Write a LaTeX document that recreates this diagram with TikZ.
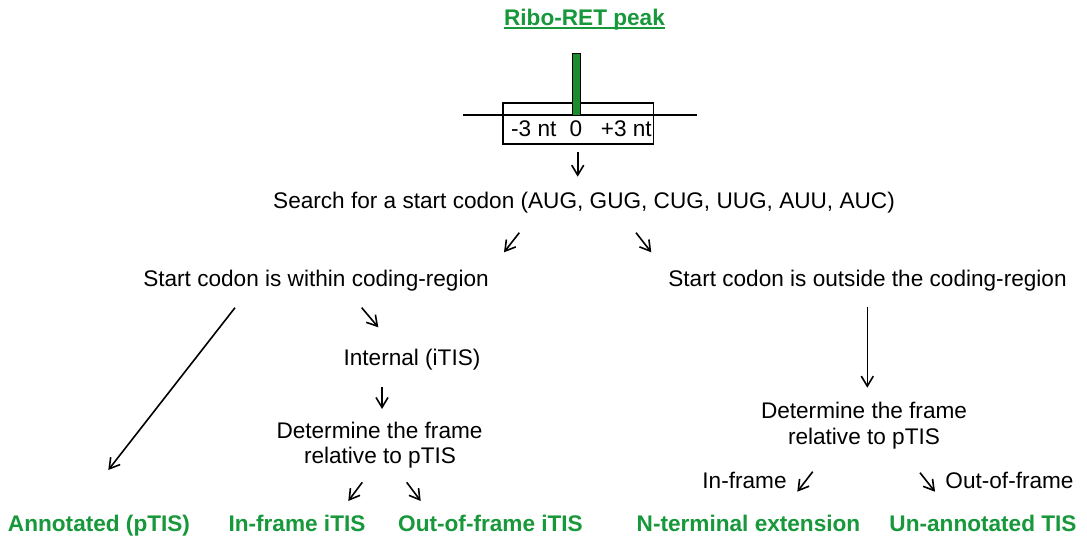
\documentclass[tikz,border=0pt]{standalone}
\usepackage{fontspec}
\setmainfont{Liberation Sans}
\usetikzlibrary{arrows.meta}
\definecolor{ggreen}{RGB}{23,152,58}
\definecolor{bargreen}{RGB}{28,140,45}
\begin{document}
\begin{tikzpicture}[x=1pt,y=-1pt,
  txt/.style={anchor=base,inner sep=0pt,font=\fontsize{22.6}{25.5}\selectfont},
  res/.style={anchor=base,inner sep=0pt,text=ggreen,font=\fontsize{22.6}{25.5}\selectfont\bfseries},
  arr/.style={line width=1.6pt,-{Straight Barb[length=10pt,width=12pt,line width=1.6pt]}},
  thin line/.style={line width=1.6pt}]
\useasboundingbox[fill=white] (0,0) rectangle (1087,537);

% peak
\node[res] (ribo) at (584.5,25.5) {Ribo-RET peak};
\draw[ggreen,line width=1.8pt] ([yshift=-2.5pt]ribo.base west) -- ([yshift=-2.5pt]ribo.base east);

\coordinate (la) at (463,115);
\coordinate (lb) at (697,115);
\draw[thin line] (la) -- (lb);
\node[draw,thin line,minimum width=150.6pt,minimum height=41pt,inner sep=0pt] (box) at (578,123.8) {};
\node[draw=black,line width=1pt,fill=bargreen,minimum width=7.7pt,minimum height=61.7pt,inner sep=0pt] (bar) at (576.2,84.2) {};
\node[txt,anchor=base west] (m3) at (511,137) {-3 nt};
\node[txt] (zero) at (576,137) {0};
\node[txt,anchor=base west] (p3) at (600.7,137) {+3 nt};

\coordinate (a0s) at (577.7,152);
\coordinate (a0e) at (577.7,176.7);
\draw[arr] (a0s) -- (a0e);

\node[txt] (search) at (584,208.5) {Search for a start codon (AUG, GUG, CUG, UUG, AUU, AUC)};

\coordinate (a1s) at (519.3,232.7);
\coordinate (a1e) at (504,252.3);
\coordinate (a2s) at (636,232.7);
\coordinate (a2e) at (651.3,252.3);
\draw[arr] (a1s) -- (a1e);
\draw[arr] (a2s) -- (a2e);

\node[txt] (within) at (316,287) {Start codon is within coding-region};
\node[txt] (outside) at (867.5,287) {Start codon is outside the coding-region};

% left branch
\coordinate (a3s) at (235,307.7);
\coordinate (a3e) at (108.3,470);
\draw[arr] (a3s) -- (a3e);
\coordinate (a4s) at (361.7,307.7);
\coordinate (a4e) at (378.3,327.3);
\draw[arr] (a4s) -- (a4e);

\node[txt] (internal) at (412,365) {Internal (iTIS)};
\coordinate (a5s) at (382,387);
\coordinate (a5e) at (382,409);
\draw[arr] (a5s) -- (a5e);

\node[txt] (detLa) at (379.5,438) {Determine the frame};
\node[txt] (detLb) at (380,463) {relative to pTIS};

\coordinate (a6s) at (362.3,482.3);
\coordinate (a6e) at (348.3,501);
\coordinate (a7s) at (406.7,482.3);
\coordinate (a7e) at (420.7,501);
\draw[arr] (a6s) -- (a6e);
\draw[arr] (a7s) -- (a7e);

\node[res] (annot) at (99,531) {Annotated (pTIS)};
\node[res] (inframe) at (297,531) {In-frame iTIS};
\node[res] (outframe) at (490.5,531) {Out-of-frame iTIS};

% right branch
\coordinate (a8s) at (867.3,306.7);
\coordinate (a8e) at (867.3,387.7);
\draw[arr] (a8s) -- (a8e);

\node[txt] (detRa) at (864,418) {Determine the frame};
\node[txt] (detRb) at (864,444) {relative to pTIS};

\node[txt] (inf) at (744.5,488) {In-frame};
\node[txt] (outf) at (1009.5,488) {Out-of-frame};
\coordinate (a9s) at (812.7,471.7);
\coordinate (a9e) at (797.3,491.7);
\coordinate (a10s) at (920,472.7);
\coordinate (a10e) at (935,491.7);
\draw[arr] (a9s) -- (a9e);
\draw[arr] (a10s) -- (a10e);

\node[res] (nterm) at (748.5,531) {N-terminal extension};
\node[res] (unann) at (983,531) {Un-annotated TIS};
\end{tikzpicture}
\end{document}
